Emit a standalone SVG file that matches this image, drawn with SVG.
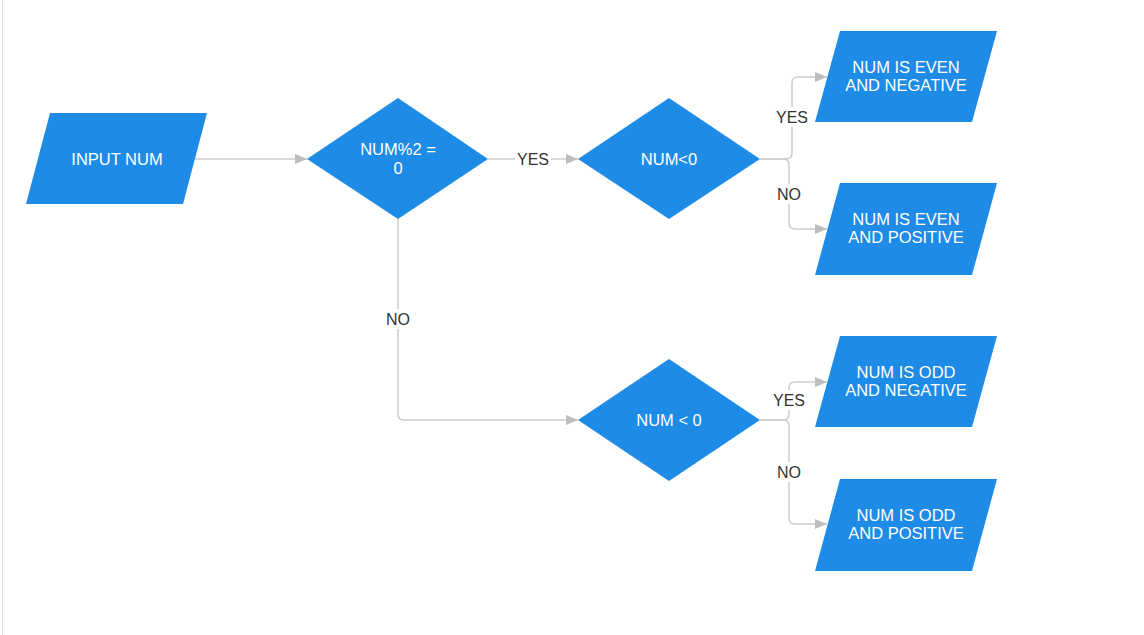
<svg xmlns="http://www.w3.org/2000/svg" width="1144" height="635" viewBox="0 0 1144 635">
<defs>
<style>
.node{fill:#1e8be6;}
.nt{fill:#ffffff;font-family:"Liberation Sans",Arial,sans-serif;font-size:16.5px;text-anchor:middle;}
.edge{fill:none;stroke:#cccccc;stroke-width:1.5;}
.lbg{fill:#ffffff;}
.lt{fill:#333333;font-family:"Liberation Sans",Arial,sans-serif;font-size:16px;text-anchor:middle;}
</style>
<marker id="arr" viewBox="0 0 12 10" refX="12" refY="5" markerWidth="12" markerHeight="10" markerUnits="userSpaceOnUse" orient="auto">
<path d="M0,0 L12,5 L0,10 Z" fill="#bdbdbd"/>
</marker>
</defs>
<rect x="0" y="0" width="1144" height="635" fill="#ffffff"/>
<line x1="2.5" y1="0" x2="2.5" y2="635" stroke="#dddddd" stroke-width="1"/>
<g id="connectors">
<path class="edge" d="M195,159 L307,159" marker-end="url(#arr)"/>
<path class="edge" d="M488,159 L578,159" marker-end="url(#arr)"/>
<path class="edge" d="M398,219 L398,414 Q398,420 404,420 L578,420" marker-end="url(#arr)"/>
<path class="edge" d="M760,159 L786,159 Q792,159 792,153 L792,83 Q792,77 798,77 L827,77" marker-end="url(#arr)"/>
<path class="edge" d="M760,159 L783,159 Q789,159 789,165 L789,223 Q789,229 795,229 L827,229" marker-end="url(#arr)"/>
<path class="edge" d="M760,420 L783,420 Q789,420 789,414 L789,388 Q789,382 795,382 L827,382" marker-end="url(#arr)"/>
<path class="edge" d="M760,420 L783,420 Q789,420 789,426 L789,518 Q789,524 795,524 L827,524" marker-end="url(#arr)"/>
<rect class="lbg" x="515" y="149" width="36" height="20"/>
<text class="lt" x="533" y="165">YES</text>
<rect class="lbg" x="384" y="309" width="28" height="20"/>
<text class="lt" x="398" y="325">NO</text>
<rect class="lbg" x="774" y="107" width="36" height="20"/>
<text class="lt" x="792" y="123">YES</text>
<rect class="lbg" x="775" y="184" width="28" height="20"/>
<text class="lt" x="789" y="200">NO</text>
<rect class="lbg" x="771" y="390" width="36" height="20"/>
<text class="lt" x="789" y="406">YES</text>
<rect class="lbg" x="775" y="462" width="28" height="20"/>
<text class="lt" x="789" y="478">NO</text>
</g>
<g id="input">
<polygon class="node" points="50,113 207,113 183,204 26,204"/>
<text class="nt" x="117" y="165">INPUT NUM</text>
</g>
<g id="mod">
<polygon class="node" points="398,98 488,159 398,219 307,159"/>
<text class="nt" x="398" y="155">NUM%2 =</text>
<text class="nt" x="398" y="174">0</text>
</g>
<g id="neg1">
<polygon class="node" points="669,98 760,159 669,219 578,159"/>
<text class="nt" x="669" y="165">NUM&lt;0</text>
</g>
<g id="neg2">
<polygon class="node" points="669,359 760,420 669,481 578,420"/>
<text class="nt" x="669" y="426">NUM &lt; 0</text>
</g>
<g id="evenneg">
<polygon class="node" points="840,31 997,31 972,122 815,122"/>
<text class="nt" x="906" y="73">NUM IS EVEN</text>
<text class="nt" x="906" y="91">AND NEGATIVE</text>
</g>
<g id="evenpos">
<polygon class="node" points="840,183 997,183 972,275 815,275"/>
<text class="nt" x="906" y="225">NUM IS EVEN</text>
<text class="nt" x="906" y="243">AND POSITIVE</text>
</g>
<g id="oddneg">
<polygon class="node" points="840,336 997,336 972,427 815,427"/>
<text class="nt" x="906" y="378">NUM IS ODD</text>
<text class="nt" x="906" y="396">AND NEGATIVE</text>
</g>
<g id="oddpos">
<polygon class="node" points="840,479 997,479 972,571 815,571"/>
<text class="nt" x="906" y="521">NUM IS ODD</text>
<text class="nt" x="906" y="539">AND POSITIVE</text>
</g>
</svg>
